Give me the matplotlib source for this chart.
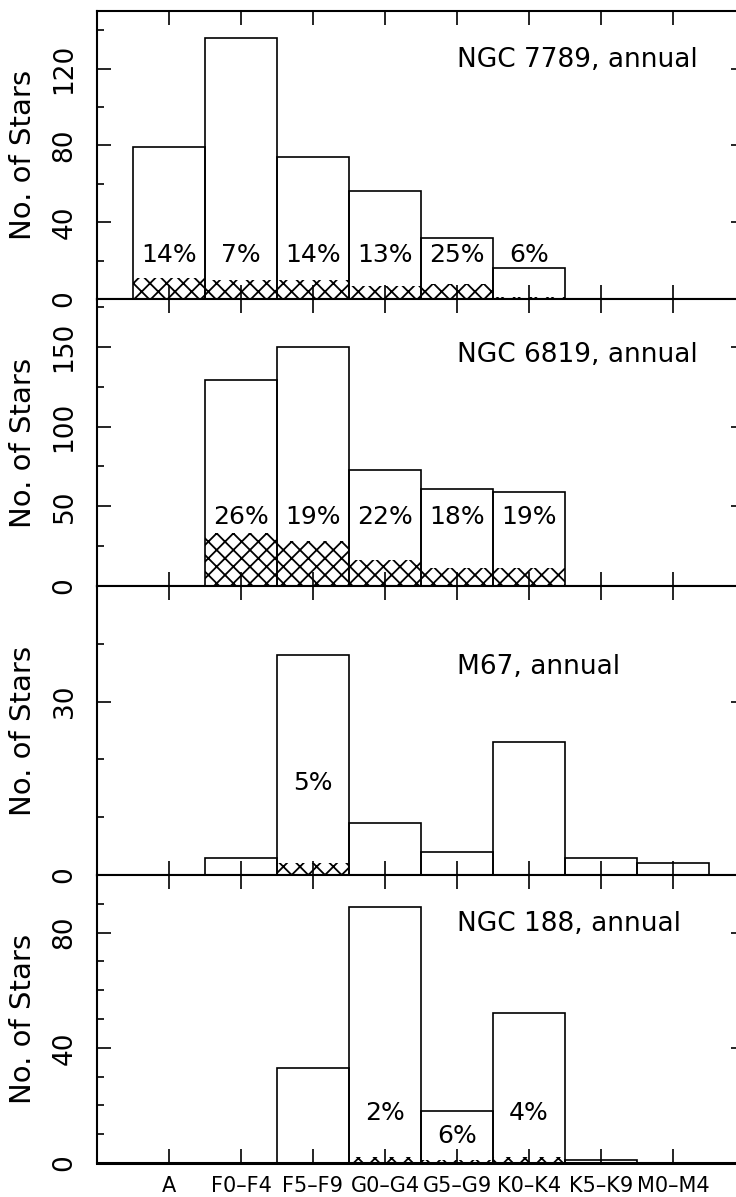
import matplotlib
matplotlib.use("Agg")
import matplotlib.pyplot as plt
from matplotlib.ticker import MultipleLocator

plt.rcParams['font.family'] = 'DejaVu Sans'
plt.rcParams['hatch.linewidth'] = 1.3

# spectral type bins
categories = ['A', 'F0–F4', 'F5–F9', 'G0–G4', 'G5–G9', 'K0–K4', 'K5–K9', 'M0–M4']

# total stars per bin and number of variables (hatched part)
n7789_total = [79, 136, 74, 56, 32, 16, 0, 0]
n7789_var = [11, 10, 10, 7, 8, 1, 0, 0]
n7789_pct = [14, 7, 14, 13, 25, 6, None, None]

n6819_total = [0, 129, 150, 73, 61, 59, 0, 0]
n6819_var = [0, 33, 28, 16, 11, 11, 0, 0]
n6819_pct = [None, 26, 19, 22, 18, 19, None, None]

m67_total = [0, 3, 38, 9, 4, 23, 3, 2]
m67_var = [0, 0, 2, 0, 0, 0, 0, 0]
m67_pct = [None, None, 5, None, None, None, None, None]

n188_total = [0, 0, 33, 89, 18, 52, 1, 0]
n188_var = [0, 0, 0, 2, 1, 2, 0, 0]
n188_pct = [None, None, None, 2, 6, 4, None, None]

panels = [
    ('NGC 7789, annual', n7789_total, n7789_var, n7789_pct),
    ('NGC 6819, annual', n6819_total, n6819_var, n6819_pct),
    ('M67, annual', m67_total, m67_var, m67_pct),
    ('NGC 188, annual', n188_total, n188_var, n188_pct),
]

# layout: y range, major/minor ticks, where the percent labels sit
ylims = [150, 180, 50, 100]
majors = [40, 50, 30, 40]
minors = [20, 25, 10, 10]
title_y = [0.83, 0.805, 0.72, 0.83]
pct_y = [[23] * 8, [43.5] * 8, [16] * 8,
         [17.4, 17.4, 17.4, 17.4, 9.3, 17.4, 17.4, 17.4]]

W, H = 736, 1197
fig = plt.figure(figsize=(W / 100, H / 100), dpi=100)
tops = [11, 299, 586, 875]
bots = [299, 586, 875, 1163]
left, right = 97, 745

x = list(range(len(categories)))

for k, (name, total, var, pct) in enumerate(panels):
    ax = fig.add_axes([left / W, 1 - bots[k] / H, (right - left) / W, (bots[k] - tops[k]) / H])
    ax.bar(x, var, width=1.0, facecolor='none', edgecolor='black', linewidth=0,
           hatch='xx', zorder=2)
    ax.bar(x, total, width=1.0, facecolor='none', edgecolor='black', linewidth=1.2,
           zorder=3)
    for i, p in enumerate(pct):
        if p is not None:
            ax.text(x[i], pct_y[k][i], f'{p}%', ha='center', va='center', fontsize=18)
    ax.text(4, title_y[k], name, transform=ax.get_xaxis_transform(),
            ha='left', va='center', fontsize=19)

    ax.set_xlim(-1, 8)
    ax.set_ylim(0, ylims[k])
    ax.set_xticks(x)
    ax.yaxis.set_major_locator(MultipleLocator(majors[k]))
    ax.yaxis.set_minor_locator(MultipleLocator(minors[k]))
    ax.tick_params(which='both', direction='in', top=True, right=True, width=1.2)
    ax.tick_params(which='major', length=10)
    ax.tick_params(which='minor', length=5)
    ax.tick_params(axis='x', which='minor', bottom=False, top=False)
    ax.tick_params(axis='y', labelsize=19, labelrotation=90, pad=14)
    for lab in ax.get_yticklabels():
        lab.set_va('center')
    for s in ax.spines.values():
        s.set_linewidth(1.5)
    ax.spines['bottom'].set_linewidth(2.2)
    ax.set_ylabel('No. of Stars', fontsize=21)
    ax.yaxis.set_label_coords(-0.092, 0.5)
    if k == 3:
        ax.set_xticklabels(categories, fontsize=15)
        ax.tick_params(axis='x', pad=9)
    else:
        ax.set_xticklabels([])

fig.savefig('out.png', dpi=100)
